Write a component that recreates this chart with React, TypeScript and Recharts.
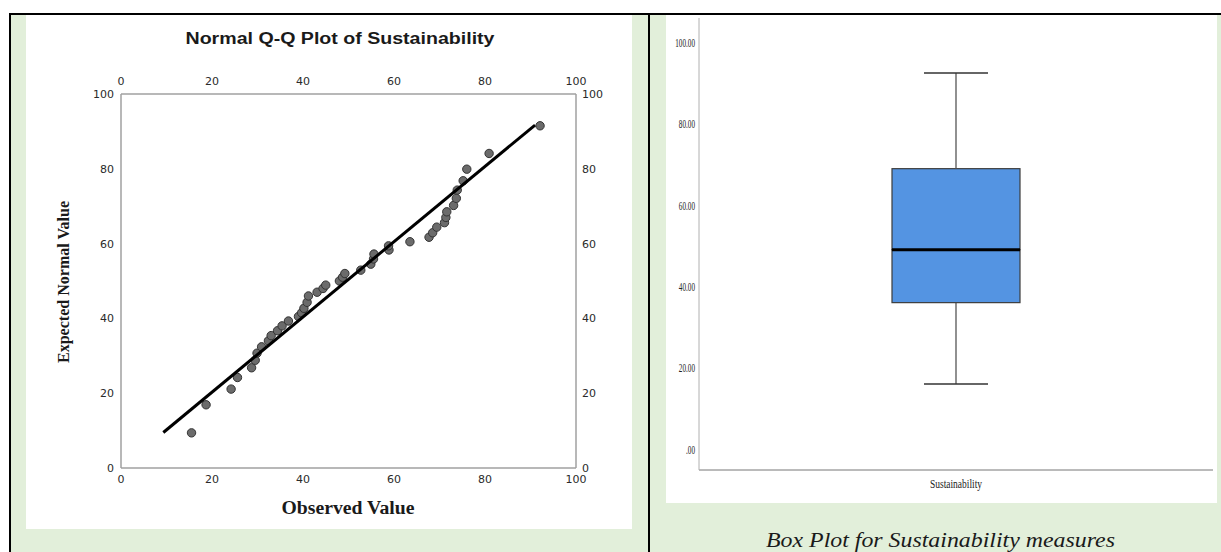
import React from "react";
import { ScatterChart, Scatter, XAxis, YAxis, ComposedChart, Bar } from "recharts";

// Normal Q-Q plot (observed vs expected normal value)
const qqTicks = [0, 20, 40, 60, 80, 100];
const observed = [
  15.5, 18.7, 24.2, 25.6, 28.7, 29.5, 29.9, 30.9, 32.4, 33.0, 34.4, 35.4, 36.8,
  39.0, 39.7, 40.2, 40.9, 41.2, 43.1, 44.4, 45.0, 48.0, 48.7, 49.2, 52.7, 54.9,
  55.5, 55.6, 58.9, 58.8, 63.5, 67.7, 68.5, 69.4, 71.1, 71.4, 71.6, 73.1, 73.7,
  73.9, 75.2, 76.0, 80.9, 92.1,
];
const expected = [
  9.4, 16.9, 21.1, 24.2, 26.8, 28.8, 30.7, 32.4, 34.0, 35.4, 36.7, 38.0, 39.3,
  40.5, 41.5, 42.7, 44.3, 46.0, 47.0, 48.0, 48.9, 50.0, 51.0, 52.0, 52.9, 54.5,
  55.9, 57.2, 58.3, 59.4, 60.5, 61.7, 62.9, 64.4, 65.6, 67.0, 68.5, 70.2, 72.1,
  74.3, 76.8, 79.9, 84.1, 91.5,
];
const lineObserved = [9.3, 91.0];
const lineExpected = [9.5, 91.7];

// Box plot summary
const boxCategories = ["Sustainability"];
const boxMin = [16.1];
const boxQ1 = [36.1];
const boxMedian = [49.1];
const boxQ3 = [69.0];
const boxMax = [92.5];
const boxTicks = [0, 20, 40, 60, 80, 100];

const GREEN = "#e2efda";
const BOX_BLUE = "#5494e2";

const qqPoints = observed.map((o, i) => ({ x: o, y: expected[i] }));
const qqLine = lineObserved.map((o, i) => ({ x: o, y: lineExpected[i] }));

const boxData = boxCategories.map((name, i) => ({
  name,
  base: boxMin[i],
  lowerWhisker: boxQ1[i] - boxMin[i],
  lowerBox: boxMedian[i] - boxQ1[i],
  upperBox: boxQ3[i] - boxMedian[i],
  upperWhisker: boxMax[i] - boxQ3[i],
}));

const qqTickStyle = { fontFamily: "DejaVu Sans", fontSize: 11, fill: "#2a2a2a" };
const frame = { stroke: "#a0a0a0", strokeWidth: 1.5 };

function LowerWhisker(p: any) {
  const cx = p.x + p.width / 2;
  const bottom = p.y + p.height;
  return (
    <g>
      <line x1={cx} y1={p.y} x2={cx} y2={bottom} stroke="#555" strokeWidth={1.3} />
      <line x1={cx - p.width / 4} x2={cx + p.width / 4} y1={bottom} y2={bottom} stroke="#333" strokeWidth={1.5} />
    </g>
  );
}

function UpperWhisker(p: any) {
  const cx = p.x + p.width / 2;
  return (
    <g>
      <line x1={cx} y1={p.y} x2={cx} y2={p.y + p.height} stroke="#555" strokeWidth={1.3} />
      <line x1={cx - p.width / 4} x2={cx + p.width / 4} y1={p.y} y2={p.y} stroke="#333" strokeWidth={1.5} />
    </g>
  );
}

function LowerBox(p: any) {
  return <rect x={p.x} y={p.y} width={p.width} height={p.height} fill={BOX_BLUE} stroke="#3d3d3d" strokeWidth={1.2} />;
}

function UpperBox(p: any) {
  const bottom = p.y + p.height;
  return (
    <g>
      <rect x={p.x} y={p.y} width={p.width} height={p.height} fill={BOX_BLUE} stroke="#3d3d3d" strokeWidth={1.2} />
      <line x1={p.x} x2={p.x + p.width} y1={bottom} y2={bottom} stroke="#000" strokeWidth={3} />
    </g>
  );
}

function BoxYTick(p: any) {
  const v = p.payload.value;
  const label = v === 0 ? ".00" : v.toFixed(2);
  return (
    <g transform={`translate(${p.x},${p.y}) scale(0.6,1)`}>
      <text x={0} y={0} dy="0.35em" textAnchor="end" fontFamily="Liberation Serif" fontSize={12} fill="#222">
        {label}
      </text>
    </g>
  );
}

function BoxXTick(p: any) {
  return (
    <g transform={`translate(${p.x},${p.y + 18}) scale(0.79,1)`}>
      <text x={0} y={0} textAnchor="middle" fontFamily="Liberation Serif" fontSize={12} fill="#222">
        {p.payload.value}
      </text>
    </g>
  );
}

export default function App() {
  return (
    <div style={{ position: "absolute", left: 0, top: 0, width: 1221, height: 552, background: "#fff", overflow: "hidden" }}>
      {/* table cells */}
      <div style={{ position: "absolute", left: 11, top: 15, width: 637, height: 537, background: GREEN }} />
      <div style={{ position: "absolute", left: 26, top: 15, width: 606, height: 514, background: "#fff" }} />
      <div style={{ position: "absolute", left: 650, top: 15, width: 571, height: 537, background: GREEN }} />
      <div style={{ position: "absolute", left: 666, top: 15, width: 551, height: 488, background: "#fff" }} />
      <div style={{ position: "absolute", left: 9, top: 13, width: 1212, height: 2, background: "#000" }} />
      <div style={{ position: "absolute", left: 9, top: 13, width: 2, height: 539, background: "#000" }} />
      <div style={{ position: "absolute", left: 648, top: 13, width: 2, height: 539, background: "#000" }} />

      <div style={{ position: "absolute", left: 26, top: 15 }}>
        <ScatterChart width={606} height={514} margin={{ top: 59, right: 26, bottom: 41, left: 65 }}>
          <XAxis xAxisId="bottom" type="number" dataKey="x" domain={[0, 100]} ticks={qqTicks} interval={0}
            orientation="bottom" height={20} tickLine={false} tickSize={0} tickMargin={7} axisLine={frame} tick={qqTickStyle} />
          <XAxis xAxisId="top" type="number" dataKey="x" domain={[0, 100]} ticks={qqTicks} interval={0}
            orientation="top" height={20} tickLine={false} tickSize={0} tickMargin={9} axisLine={frame} tick={qqTickStyle} />
          <YAxis yAxisId="left" type="number" dataKey="y" domain={[0, 100]} ticks={qqTicks} interval={0}
            orientation="left" width={30} tickLine={false} tickSize={0} tickMargin={7} axisLine={frame} tick={qqTickStyle} />
          <YAxis yAxisId="right" type="number" dataKey="y" domain={[0, 100]} ticks={qqTicks} interval={0}
            orientation="right" width={30} tickLine={false} tickSize={0} tickMargin={6} axisLine={frame} tick={qqTickStyle} />
          {/* hidden series so the top and right frame axes are drawn */}
          <Scatter xAxisId="top" yAxisId="right" data={qqPoints} isAnimationActive={false} shape={() => <g />} />
          <Scatter xAxisId="bottom" yAxisId="left" data={qqPoints} isAnimationActive={false}
            shape={(p: any) => <circle cx={p.cx} cy={p.cy} r={4.2} fill="#6b6b6b" stroke="#333" strokeWidth={1} />} />
          <Scatter xAxisId="bottom" yAxisId="left" data={qqLine} isAnimationActive={false} stroke="#000"
            line={{ stroke: "#000", strokeWidth: 3 }} shape={() => <g />} />
        </ScatterChart>
      </div>

      <div style={{ position: "absolute", left: 666, top: 15 }}>
        <ComposedChart width={551} height={488} data={boxData} margin={{ top: 3, right: 4, bottom: 0, left: 0 }} barSize={128}>
          <XAxis dataKey="name" type="category" height={33} tickLine={false} tickSize={0} tickMargin={0}
            axisLine={{ stroke: "#777", strokeWidth: 1 }} tick={(p: any) => <BoxXTick {...p} />} />
          <YAxis type="number" domain={[-5, 106]} ticks={boxTicks} interval={0} width={33} tickLine={false}
            tickSize={0} tickMargin={4} axisLine={{ stroke: "#b0b0b0", strokeWidth: 1 }} tick={(p: any) => <BoxYTick {...p} />} />
          <Bar dataKey="base" stackId="box" isAnimationActive={false} shape={() => <g />} />
          <Bar dataKey="lowerWhisker" stackId="box" isAnimationActive={false} shape={(p: any) => <LowerWhisker {...p} />} />
          <Bar dataKey="lowerBox" stackId="box" isAnimationActive={false} shape={(p: any) => <LowerBox {...p} />} />
          <Bar dataKey="upperBox" stackId="box" isAnimationActive={false} shape={(p: any) => <UpperBox {...p} />} />
          <Bar dataKey="upperWhisker" stackId="box" isAnimationActive={false} shape={(p: any) => <UpperWhisker {...p} />} />
        </ComposedChart>
      </div>

      {/* titles and caption */}
      <svg width={1221} height={552} style={{ position: "absolute", left: 0, top: 0, pointerEvents: "none" }}>
        <text x={340} y={44} textAnchor="middle" fontFamily="Liberation Sans" fontWeight="bold" fontSize={16}
          fill="#1a1a1a" textLength={309} lengthAdjust="spacingAndGlyphs">
          Normal Q-Q Plot of Sustainability
        </text>
        <text x={0} y={0} transform="translate(68.5,282) rotate(-90)" textAnchor="middle" fontFamily="Liberation Serif"
          fontWeight="bold" fontSize={16} fill="#1a1a1a" textLength={162} lengthAdjust="spacingAndGlyphs">
          Expected Normal Value
        </text>
        <text x={348} y={514} textAnchor="middle" fontFamily="Liberation Serif" fontWeight="bold" fontSize={18}
          fill="#1a1a1a" textLength={133} lengthAdjust="spacingAndGlyphs">
          Observed Value
        </text>
        <text x={940.5} y={547} textAnchor="middle" fontFamily="Liberation Serif" fontStyle="italic" fontSize={20}
          fill="#1a1a1a" textLength={349} lengthAdjust="spacingAndGlyphs">
          Box Plot for Sustainability measures
        </text>
      </svg>
    </div>
  );
}
